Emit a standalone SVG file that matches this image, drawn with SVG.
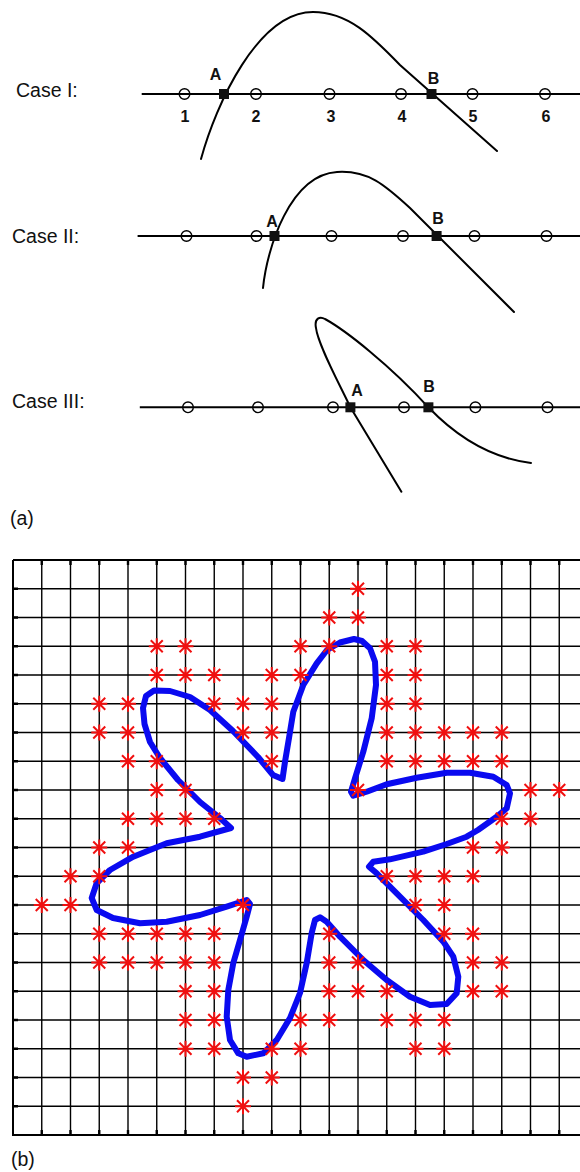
<svg xmlns="http://www.w3.org/2000/svg" xmlns:xlink="http://www.w3.org/1999/xlink" width="580" height="1172" viewBox="0 0 580 1172">
<style>
.lbl{font-family:"Liberation Sans",Arial,sans-serif;font-size:19.5px;fill:#111}
.pt{font-family:"Liberation Sans",Arial,sans-serif;font-size:16px;font-weight:bold;fill:#111;text-anchor:middle}
.axis{stroke:#000;stroke-width:2;fill:none}
.curve{stroke:#000;stroke-width:2;fill:none;stroke-linecap:round}
.node{stroke:#000;stroke-width:1.4;fill:none}
.sq{fill:#111}
.grid{stroke:#000;stroke-width:1.4;fill:none}
.tick{stroke:#000;stroke-width:2.4;fill:none}
.flower{stroke:#0a0af0;stroke-width:6;fill:none;stroke-linejoin:round}
.star{stroke:#f01010;stroke-width:2;fill:none}
</style>
<defs>
<path id="st" class="star" d="M-8,0H8M0,-8V8M-6,-6L6,6M-6,6L6,-6"/>
<circle id="nd" class="node" r="5.3"/>
<rect id="sqr" class="sq" x="-5" y="-5" width="10" height="10"/>
</defs>

<g id="case1">
<text class="lbl" x="16" y="97.3">Case I:</text>
<path class="axis" d="M141.7,94H580"/>
<path class="curve" d="M201,159C216,104 258,12 313,12C348,12 372,36 400,65L497,151"/>
<use xlink:href="#nd" x="184.5" y="94"/><use xlink:href="#nd" x="256" y="94"/><use xlink:href="#nd" x="329.5" y="94"/><use xlink:href="#nd" x="401" y="94"/><use xlink:href="#nd" x="472.5" y="94"/><use xlink:href="#nd" x="545" y="94"/>
<use xlink:href="#sqr" x="224" y="94"/><use xlink:href="#sqr" x="431.5" y="94"/>
<text class="pt" x="215.5" y="80">A</text><text class="pt" x="433.5" y="84">B</text>
<text class="pt" x="185" y="121.5">1</text><text class="pt" x="256" y="121.5">2</text><text class="pt" x="331" y="121.5">3</text><text class="pt" x="402" y="121.5">4</text><text class="pt" x="473" y="121.5">5</text><text class="pt" x="546" y="121.5">6</text>
</g>

<g id="case2">
<text class="lbl" x="12" y="242.7">Case II:</text>
<path class="axis" d="M137.6,236H580"/>
<path class="curve" d="M263,288C267,248 290,175 337,172C368,170 385,185 410,208L514,312"/>
<use xlink:href="#nd" x="186.5" y="236"/><use xlink:href="#nd" x="256.5" y="236"/><use xlink:href="#nd" x="331.5" y="236"/><use xlink:href="#nd" x="403" y="236"/><use xlink:href="#nd" x="474.5" y="236"/><use xlink:href="#nd" x="546.5" y="236"/>
<use xlink:href="#sqr" x="274.5" y="236"/><use xlink:href="#sqr" x="436.6" y="236"/>
<text class="pt" x="272" y="227">A</text><text class="pt" x="438" y="224">B</text>
</g>

<g id="case3">
<text class="lbl" x="12" y="407.5">Case III:</text>
<path class="axis" d="M139.8,407.3H580"/>
<path class="curve" d="M401.4,491.7L350.4,407.3C340,385 318,345 316,328C314,318 320,316 325,319C345,330 390,365 428.4,407.3C455,435 490,458 531,463"/>
<use xlink:href="#nd" x="188" y="407.3"/><use xlink:href="#nd" x="258" y="407.3"/><use xlink:href="#nd" x="333" y="407.3"/><use xlink:href="#nd" x="404" y="407.3"/><use xlink:href="#nd" x="475.4" y="407.3"/><use xlink:href="#nd" x="547.5" y="407.3"/>
<use xlink:href="#sqr" x="350.4" y="407.3"/><use xlink:href="#sqr" x="428.4" y="407.3"/>
<text class="pt" x="357" y="396">A</text><text class="pt" x="429" y="391.7">B</text>
</g>

<text id="label-a" class="lbl" x="10" y="525">(a)</text>

<g id="grid">
<path class="grid" d="M13,560H580M13,588.75H580M13,617.5H580M13,646.25H580M13,675H580M13,703.75H580M13,732.5H580M13,761.25H580M13,790H580M13,818.75H580M13,847.5H580M13,876.25H580M13,905H580M13,933.75H580M13,962.5H580M13,991.25H580M13,1020H580M13,1048.75H580M13,1077.5H580M13,1106.25H580M13,1135H580"/>
<path class="grid" d="M13,560V1135M41.75,560V1135M70.5,560V1135M99.25,560V1135M128,560V1135M156.75,560V1135M185.5,560V1135M214.25,560V1135M243,560V1135M271.75,560V1135M300.5,560V1135M329.25,560V1135M358,560V1135M386.75,560V1135M415.5,560V1135M444.25,560V1135M473,560V1135M501.75,560V1135M530.5,560V1135M559.25,560V1135"/>
<path class="axis" d="M13,560V1135H580M13,560H580"/>
<path class="tick" d="M13,588.75h5M13,617.5h5M13,646.25h5M13,675h5M13,703.75h5M13,732.5h5M13,761.25h5M13,790h5M13,818.75h5M13,847.5h5M13,876.25h5M13,905h5M13,933.75h5M13,962.5h5M13,991.25h5M13,1020h5M13,1048.75h5M13,1077.5h5M13,1106.25h5"/>
<path class="tick" d="M41.75,1135v-5M70.5,1135v-5M99.25,1135v-5M128,1135v-5M156.75,1135v-5M185.5,1135v-5M214.25,1135v-5M243,1135v-5M271.75,1135v-5M300.5,1135v-5M329.25,1135v-5M358,1135v-5M386.75,1135v-5M415.5,1135v-5M444.25,1135v-5M473,1135v-5M501.75,1135v-5M530.5,1135v-5M559.25,1135v-5M41.75,560v5M70.5,560v5M99.25,560v5M128,560v5M156.75,560v5M185.5,560v5M214.25,560v5M243,560v5M271.75,560v5M300.5,560v5M329.25,560v5M358,560v5M386.75,560v5M415.5,560v5M444.25,560v5M473,560v5M501.75,560v5M530.5,560v5M559.25,560v5"/>
</g>

<path id="flower" class="flower" d="M354,639L340,642.5L327,650L316.7,663.3L303.3,685L293.3,711.7L289,738L285,761.7L282.5,779L273,775L258,757L233,731L210,710L190,697L170,691L154,690.5L146,696L143,708L144.5,724L150,742L160,758L178,780L200,802L220,818L231,828L200,836.7L166.7,843.3L133.3,856.7L110,870L96.7,883L91.7,898L96.7,910L113,918L140,923.3L166.7,921.7L200,915L226.7,906.7L246.7,900L250,904L246.7,916.7L240,940L233.3,963L228.3,990L226.7,1016.7L230,1040L238.3,1053.3L246.7,1056.7L263.3,1053.3L276.7,1040L290,1018L300,993L306.7,963L311.7,933L315,920L320,917.3L326.7,921.7L340,936.7L363.3,960L386.7,980L410,996.7L430,1005L446.7,1004L456.7,993.3L458.3,976.7L453.3,956.7L443.3,941.7L423.3,920L396.7,893.3L376.7,873.3L369,866.7L373.3,861.7L390,859.3L423.3,851.7L446.7,844L466.7,836.7L478,830L496.7,816.7L506.7,808.3L510,793.3L506.7,785L493.3,776.7L470,772.7L446.7,772.7L416.7,777.7L386.7,784.3L366.7,791.7L353.3,795.7L351,791.7L355,778.3L363.3,751.7L371.7,718.3L376,685L375,661.7L370,648.3L362,641Z"/>

<g id="stars">
<use xlink:href="#st" x="358" y="588.75"/>
<use xlink:href="#st" x="329.25" y="617.5"/><use xlink:href="#st" x="358" y="617.5"/>
<use xlink:href="#st" x="156.75" y="646.25"/><use xlink:href="#st" x="185.5" y="646.25"/><use xlink:href="#st" x="300.5" y="646.25"/><use xlink:href="#st" x="329.25" y="646.25"/><use xlink:href="#st" x="386.75" y="646.25"/><use xlink:href="#st" x="415.5" y="646.25"/>
<use xlink:href="#st" x="156.75" y="675"/><use xlink:href="#st" x="185.5" y="675"/><use xlink:href="#st" x="214.25" y="675"/><use xlink:href="#st" x="271.75" y="675"/><use xlink:href="#st" x="300.5" y="675"/><use xlink:href="#st" x="386.75" y="675"/><use xlink:href="#st" x="415.5" y="675"/>
<use xlink:href="#st" x="99.25" y="703.75"/><use xlink:href="#st" x="128" y="703.75"/><use xlink:href="#st" x="214.25" y="703.75"/><use xlink:href="#st" x="243" y="703.75"/><use xlink:href="#st" x="271.75" y="703.75"/><use xlink:href="#st" x="386.75" y="703.75"/><use xlink:href="#st" x="415.5" y="703.75"/>
<use xlink:href="#st" x="99.25" y="732.5"/><use xlink:href="#st" x="128" y="732.5"/><use xlink:href="#st" x="243" y="732.5"/><use xlink:href="#st" x="271.75" y="732.5"/><use xlink:href="#st" x="386.75" y="732.5"/><use xlink:href="#st" x="415.5" y="732.5"/><use xlink:href="#st" x="444.25" y="732.5"/><use xlink:href="#st" x="473" y="732.5"/><use xlink:href="#st" x="501.75" y="732.5"/>
<use xlink:href="#st" x="128" y="761.25"/><use xlink:href="#st" x="156.75" y="761.25"/><use xlink:href="#st" x="271.75" y="761.25"/><use xlink:href="#st" x="386.75" y="761.25"/><use xlink:href="#st" x="415.5" y="761.25"/><use xlink:href="#st" x="444.25" y="761.25"/><use xlink:href="#st" x="473" y="761.25"/><use xlink:href="#st" x="501.75" y="761.25"/>
<use xlink:href="#st" x="156.75" y="790"/><use xlink:href="#st" x="185.5" y="790"/><use xlink:href="#st" x="358" y="790"/><use xlink:href="#st" x="530.5" y="790"/><use xlink:href="#st" x="559.25" y="790"/>
<use xlink:href="#st" x="128" y="818.75"/><use xlink:href="#st" x="156.75" y="818.75"/><use xlink:href="#st" x="185.5" y="818.75"/><use xlink:href="#st" x="214.25" y="818.75"/><use xlink:href="#st" x="501.75" y="818.75"/><use xlink:href="#st" x="530.5" y="818.75"/>
<use xlink:href="#st" x="99.25" y="847.5"/><use xlink:href="#st" x="128" y="847.5"/><use xlink:href="#st" x="473" y="847.5"/><use xlink:href="#st" x="501.75" y="847.5"/>
<use xlink:href="#st" x="70.5" y="876.25"/><use xlink:href="#st" x="99.25" y="876.25"/><use xlink:href="#st" x="386.75" y="876.25"/><use xlink:href="#st" x="415.5" y="876.25"/><use xlink:href="#st" x="444.25" y="876.25"/><use xlink:href="#st" x="473" y="876.25"/>
<use xlink:href="#st" x="41.75" y="905"/><use xlink:href="#st" x="70.5" y="905"/><use xlink:href="#st" x="243" y="905"/><use xlink:href="#st" x="415.5" y="905"/><use xlink:href="#st" x="444.25" y="905"/>
<use xlink:href="#st" x="99.25" y="933.75"/><use xlink:href="#st" x="128" y="933.75"/><use xlink:href="#st" x="156.75" y="933.75"/><use xlink:href="#st" x="185.5" y="933.75"/><use xlink:href="#st" x="214.25" y="933.75"/><use xlink:href="#st" x="329.25" y="933.75"/><use xlink:href="#st" x="444.25" y="933.75"/><use xlink:href="#st" x="473" y="933.75"/>
<use xlink:href="#st" x="99.25" y="962.5"/><use xlink:href="#st" x="128" y="962.5"/><use xlink:href="#st" x="156.75" y="962.5"/><use xlink:href="#st" x="185.5" y="962.5"/><use xlink:href="#st" x="214.25" y="962.5"/><use xlink:href="#st" x="329.25" y="962.5"/><use xlink:href="#st" x="358" y="962.5"/><use xlink:href="#st" x="473" y="962.5"/><use xlink:href="#st" x="501.75" y="962.5"/>
<use xlink:href="#st" x="185.5" y="991.25"/><use xlink:href="#st" x="214.25" y="991.25"/><use xlink:href="#st" x="329.25" y="991.25"/><use xlink:href="#st" x="358" y="991.25"/><use xlink:href="#st" x="386.75" y="991.25"/><use xlink:href="#st" x="473" y="991.25"/><use xlink:href="#st" x="501.75" y="991.25"/>
<use xlink:href="#st" x="185.5" y="1020"/><use xlink:href="#st" x="214.25" y="1020"/><use xlink:href="#st" x="300.5" y="1020"/><use xlink:href="#st" x="329.25" y="1020"/><use xlink:href="#st" x="386.75" y="1020"/><use xlink:href="#st" x="415.5" y="1020"/><use xlink:href="#st" x="444.25" y="1020"/>
<use xlink:href="#st" x="185.5" y="1048.75"/><use xlink:href="#st" x="214.25" y="1048.75"/><use xlink:href="#st" x="271.75" y="1048.75"/><use xlink:href="#st" x="300.5" y="1048.75"/><use xlink:href="#st" x="415.5" y="1048.75"/><use xlink:href="#st" x="444.25" y="1048.75"/>
<use xlink:href="#st" x="243" y="1077.5"/><use xlink:href="#st" x="271.75" y="1077.5"/>
<use xlink:href="#st" x="243" y="1106.25"/>
</g>

<text id="label-b" class="lbl" x="11" y="1166">(b)</text>
</svg>
